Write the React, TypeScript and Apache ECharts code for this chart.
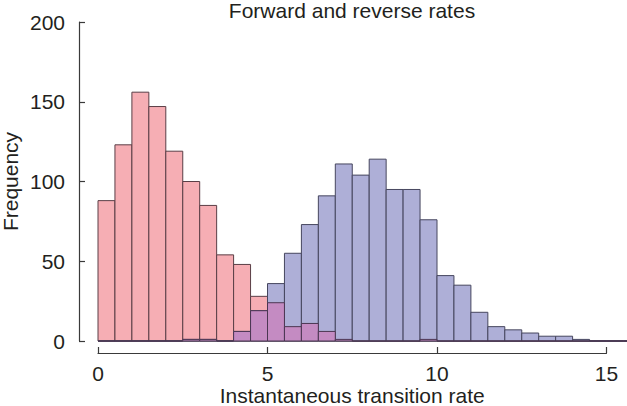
import React, { useEffect, useRef } from "react";
import * as echarts from "echarts";

// Histogram bins: width 0.5, starting at 0
const binStart = 0;
const binWidth = 0.5;
// Forward rates (pink) counts per bin
const forwardCounts = [88, 123, 156, 147, 119, 100, 85, 54, 48, 28, 24, 9, 11, 6, 1, 0, 0, 0, 0, 1, 0, 0, 0, 0, 0, 0, 0, 0, 0, 0, 0, 0];
// Reverse rates (blue) counts per bin
const reverseCounts = [0, 0, 0, 0, 0, 1, 1, 0, 6, 19, 36, 55, 73, 91, 111, 104, 114, 95, 95, 76, 41, 35, 18, 9, 7, 5, 3, 3, 1, 0, 0, 0];
const yTicks = [0, 50, 100, 150, 200];
const xTicks = [0, 5, 10, 15];

const FONT = "'Liberation Sans', Arial, Helvetica, sans-serif";
const TEXT = "#231f20";
const AXIS = "#3a3a3a";

function binData(counts: number[]) {
  return counts.map((c, i) => [binStart + i * binWidth, binStart + (i + 1) * binWidth, c]);
}

function makeRender(fill: string, stroke: string) {
  return (params: any, api: any) => {
    const x0 = api.value(0);
    const x1 = api.value(1);
    const v = api.value(2);
    const pTop = api.coord([x0, v]);
    const pBot = api.coord([x1, 0]);
    return {
      type: "rect",
      shape: { x: pTop[0], y: pTop[1], width: pBot[0] - pTop[0], height: pBot[1] - pTop[1] },
      style: { fill, stroke, lineWidth: 1 },
    };
  };
}

export default function App() {
  const ref = useRef<HTMLDivElement>(null);
  useEffect(() => {
    if (!ref.current) return;
    const chart = echarts.init(ref.current, null, { renderer: "svg" });
    const overlap = forwardCounts.map((f, i) => Math.min(f, reverseCounts[i]));
    chart.setOption({
      animation: false,
      backgroundColor: "#ffffff",
      title: {
        text: "Forward and reverse rates",
        left: 352,
        textAlign: "center",
        top: 1,
        padding: 0,
        textStyle: { fontFamily: FONT, fontSize: 21, lineHeight: 18, fontWeight: "normal", color: TEXT },
      },
      grid: { left: 98, right: 20.5, top: 22, bottom: 65, containLabel: false, outerBoundsMode: "none" },
      xAxis: {
        type: "value",
        min: xTicks[0],
        max: xTicks[xTicks.length - 1],
        interval: 5,
        offset: 12,
        name: "Instantaneous transition rate",
        nameLocation: "middle",
        nameGap: 32,
        nameMoveOverlap: false,
        nameTextStyle: { fontFamily: FONT, fontSize: 21, lineHeight: 21, color: TEXT },
        axisLine: { show: true, onZero: false, lineStyle: { color: AXIS, width: 1.2 } },
        axisTick: { show: true, inside: true, length: 6, lineStyle: { color: AXIS, width: 1.2 } },
        axisLabel: { fontFamily: FONT, fontSize: 21, color: TEXT, margin: 10 },
        splitLine: { show: false },
      },
      yAxis: {
        type: "value",
        min: yTicks[0],
        max: yTicks[yTicks.length - 1],
        interval: 50,
        offset: 19,
        name: "Frequency",
        nameLocation: "middle",
        nameGap: 58,
        nameMoveOverlap: false,
        nameTextStyle: { fontFamily: FONT, fontSize: 21, lineHeight: 21, color: TEXT },
        axisLine: { show: true, onZero: false, lineStyle: { color: AXIS, width: 1.2 } },
        axisTick: { show: true, inside: true, length: 6, lineStyle: { color: AXIS, width: 1.2 } },
        axisLabel: { fontFamily: FONT, fontSize: 21, color: TEXT, margin: 14 },
        splitLine: { show: false },
      },
      series: [
        {
          type: "custom",
          name: "Forward",
          data: binData(forwardCounts),
          encode: { x: [0, 1], y: 2 },
          renderItem: makeRender("#F6AEB4", "#5a3e46"),
          clip: false,
          z: 2,
        },
        {
          type: "custom",
          name: "Reverse",
          data: binData(reverseCounts),
          encode: { x: [0, 1], y: 2 },
          renderItem: makeRender("#AEAFD7", "#46465e"),
          clip: false,
          z: 3,
        },
        {
          type: "custom",
          name: "Overlap",
          data: binData(overlap),
          encode: { x: [0, 1], y: 2 },
          renderItem: makeRender("#C48BC2", "#4b3652"),
          clip: false,
          z: 4,
        },
      ],
    });
    return () => chart.dispose();
  }, []);
  return <div ref={ref} style={{ position: "fixed", left: 0, top: 0, width: 627, height: 406 }} />;
}
